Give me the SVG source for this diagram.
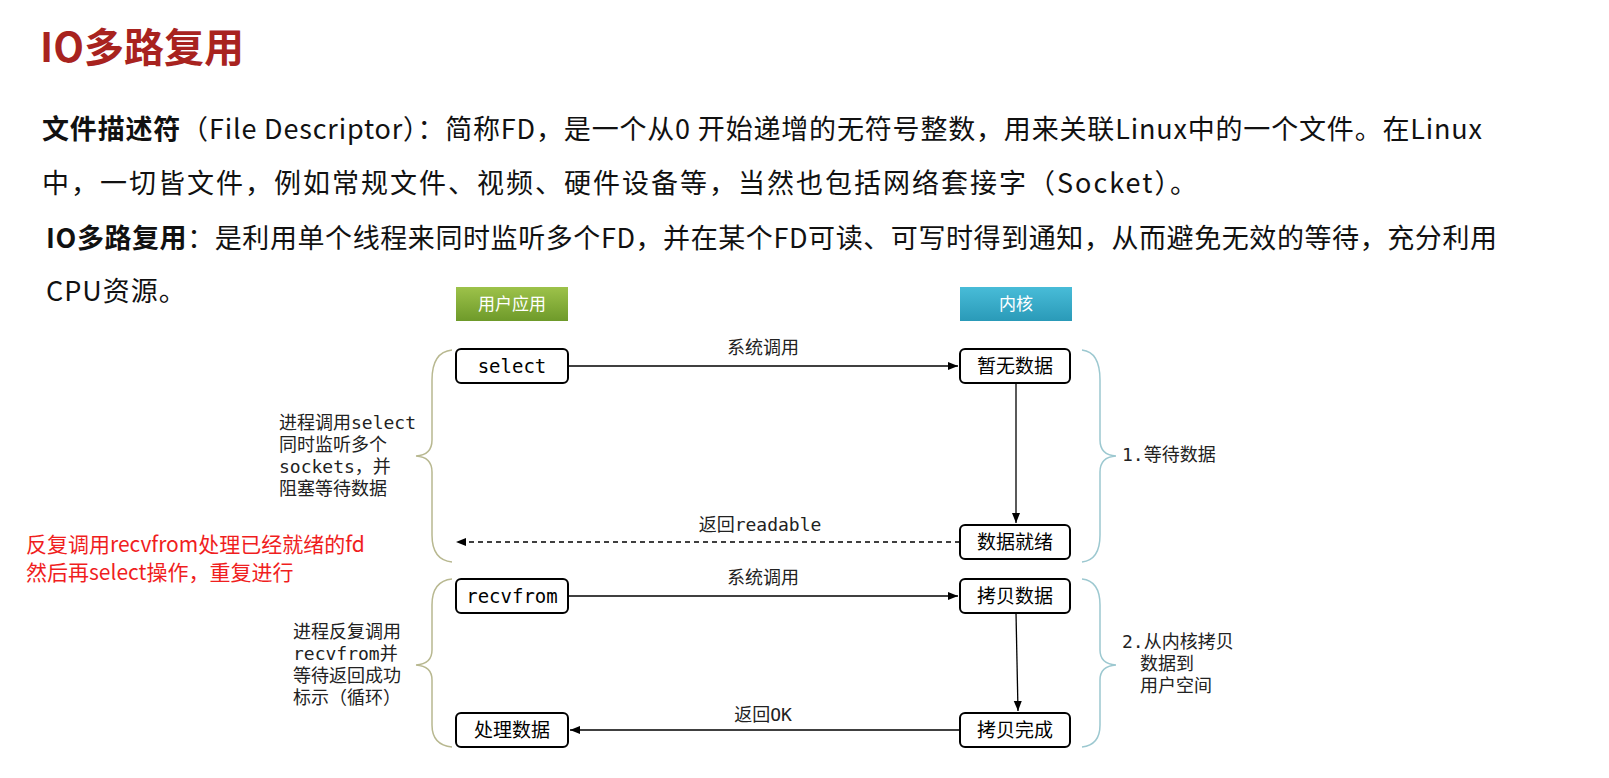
<svg xmlns="http://www.w3.org/2000/svg" width="1609" height="778" viewBox="0 0 1609 778">
<defs>
<style>
.t{font-family:"Noto Sans CJK SC","Noto Sans",sans-serif;}
.p{font-family:"Noto Sans CJK SC",sans-serif;font-size:27px;fill:#111;}
.m{font-family:"DejaVu Sans Mono","Noto Sans CJK SC",monospace;font-size:18px;fill:#222;}
.box{fill:#fff;stroke:#000;stroke-width:2;}
.bt{font-family:"DejaVu Sans Mono","Noto Sans CJK SC",monospace;font-size:19px;fill:#000;text-anchor:middle;}
.ln{stroke:#000;stroke-width:1.3;fill:none;}
.lb{fill:none;stroke:#b8b890;stroke-width:1.5;}
.rb{fill:none;stroke:#9cc8d0;stroke-width:1.5;}
</style>
<marker id="a" viewBox="0 0 10 10" refX="10" refY="5" markerWidth="8" markerHeight="8" orient="auto"><path d="M0,1 L10,5 L0,9 z" fill="#000"/></marker>
<linearGradient id="g" x1="0" y1="0" x2="0" y2="1"><stop offset="0" stop-color="#9dc24a"/><stop offset="1" stop-color="#6e9a2a"/></linearGradient>
<linearGradient id="b" x1="0" y1="0" x2="0" y2="1"><stop offset="0" stop-color="#48bcd8"/><stop offset="1" stop-color="#2a9ab8"/></linearGradient>
</defs>
<rect width="1609" height="778" fill="#fff"/>
<text x="40" y="62" class="t" font-size="40" font-weight="bold" fill="#a8231f">IO多路复用</text>
<text class="p" x="42" y="139" textLength="1440" lengthAdjust="spacing"><tspan font-weight="bold">文件描述符</tspan>（File Descriptor）：简称FD，是一个从0 开始递增的无符号整数，用来关联Linux中的一个文件。在Linux</text>
<text class="p" x="42" y="193" letter-spacing="2">中，一切皆文件，例如常规文件、视频、硬件设备等，当然也包括网络套接字（Socket）。</text>
<text class="p" x="46" y="248" textLength="1451" lengthAdjust="spacing"><tspan font-weight="bold">IO多路复用</tspan>：是利用单个线程来同时监听多个FD，并在某个FD可读、可写时得到通知，从而避免无效的等待，充分利用</text>
<text class="p" x="46" y="301" letter-spacing="1">CPU资源。</text>
<g id="user"><rect x="456" y="287" width="112" height="34" fill="url(#g)"/><text x="512" y="310" class="t" font-size="17" fill="#fff" text-anchor="middle">用户应用</text></g>
<g id="kernel"><rect x="960" y="287" width="112" height="34" fill="url(#b)"/><text x="1016" y="310" class="t" font-size="17" fill="#fff" text-anchor="middle">内核</text></g>
<g id="select"><rect class="box" x="456" y="349" width="112" height="34" rx="5"/><text class="bt" x="512" y="373">select</text></g>
<g id="nodata"><rect class="box" x="960" y="349" width="110" height="34" rx="5"/><text class="bt" x="1015" y="373">暂无数据</text></g>
<g id="ready"><rect class="box" x="960" y="525" width="110" height="34" rx="5"/><text class="bt" x="1015" y="549">数据就绪</text></g>
<g id="recvfrom"><rect class="box" x="456" y="579" width="112" height="34" rx="5"/><text class="bt" x="512" y="603">recvfrom</text></g>
<g id="copy"><rect class="box" x="960" y="579" width="110" height="34" rx="5"/><text class="bt" x="1015" y="603">拷贝数据</text></g>
<g id="process"><rect class="box" x="456" y="713" width="112" height="34" rx="5"/><text class="bt" x="512" y="737">处理数据</text></g>
<g id="done"><rect class="box" x="960" y="713" width="110" height="34" rx="5"/><text class="bt" x="1015" y="737">拷贝完成</text></g>
<g id="connectors">
<path class="ln" d="M568,366 H958" marker-end="url(#a)"/>
<path class="ln" d="M1016,383 V523" marker-end="url(#a)"/>
<path class="ln" d="M960,542 H456" stroke-dasharray="5,4" marker-end="url(#a)"/>
<path class="ln" d="M568,596 H958" marker-end="url(#a)"/>
<path class="ln" d="M1016,613 L1018,711" marker-end="url(#a)"/>
<path class="ln" d="M960,730 H570" marker-end="url(#a)"/>
<text class="m" x="763" y="354" text-anchor="middle">系统调用</text>
<text class="m" x="760" y="531" text-anchor="middle">返回readable</text>
<text class="m" x="763" y="584" text-anchor="middle">系统调用</text>
<text class="m" x="763" y="721" text-anchor="middle">返回OK</text>
</g>
<g id="braces">
<path class="lb" d="M452,350 Q432,352 432,380 V440 Q432,455 416,456 Q432,457 432,472 V535 Q432,560 452,562"/>
<path class="lb" d="M452,579 Q432,581 432,605 V650 Q432,664 416,665 Q432,666 432,680 V725 Q432,745 452,747"/>
<path class="rb" d="M1082,350 Q1100,352 1100,380 V440 Q1100,455 1116,456 Q1100,457 1100,472 V535 Q1100,560 1082,562"/>
<path class="rb" d="M1082,579 Q1100,581 1100,605 V650 Q1100,664 1116,665 Q1100,666 1100,680 V725 Q1100,745 1082,747"/>
</g>
<g id="notes">
<text class="m" x="279" y="429">进程调用select</text>
<text class="m" x="279" y="451">同时监听多个</text>
<text class="m" x="279" y="473">sockets，并</text>
<text class="m" x="279" y="495">阻塞等待数据</text>
<text class="m" x="293" y="638">进程反复调用</text>
<text class="m" x="293" y="660">recvfrom并</text>
<text class="m" x="293" y="682">等待返回成功</text>
<text class="m" x="293" y="704">标示（循环）</text>
<text class="m" x="1122" y="461">1.等待数据</text>
<text class="m" x="1122" y="648">2.从内核拷贝</text>
<text class="m" x="1140" y="670">数据到</text>
<text class="m" x="1140" y="692">用户空间</text>
<text class="t" x="26" y="552" font-size="21" fill="#f01e1e">反复调用recvfrom处理已经就绪的fd</text>
<text class="t" x="26" y="580" font-size="21" fill="#f01e1e">然后再select操作，重复进行</text>
</g>
</svg>
